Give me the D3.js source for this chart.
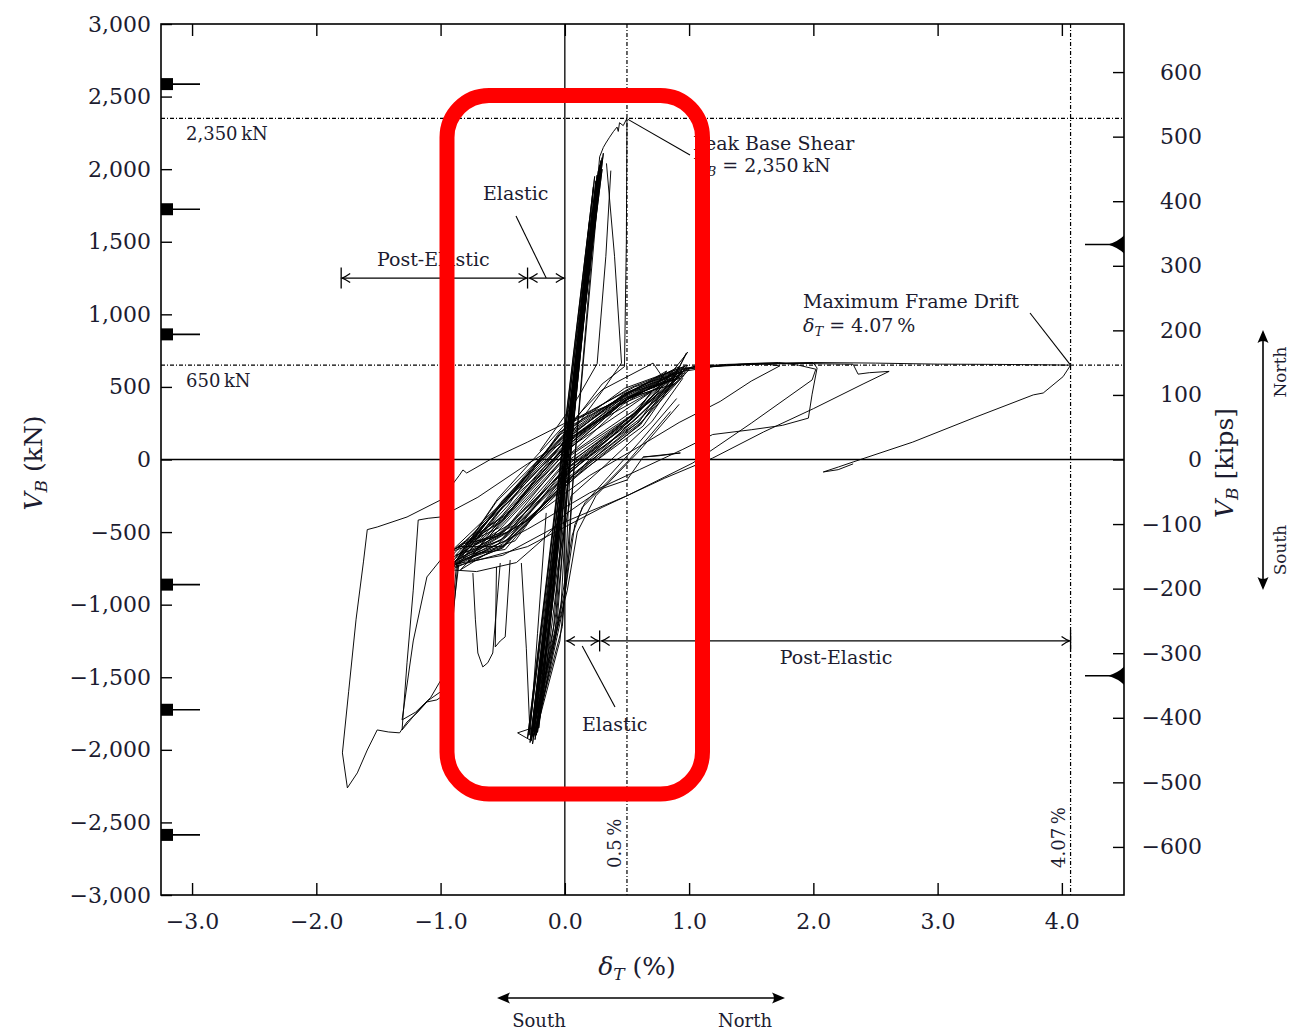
<!DOCTYPE html>
<html>
<head>
<meta charset="utf-8">
<script src="https://cdn.jsdelivr.net/npm/d3@7"></script>
<style>
  body { margin: 0; background: #fff; }
  svg text { font-family: "DejaVu Serif", serif; fill: #1c1c30; }
</style>
</head>
<body>
<svg id="chart" width="1291" height="1031"></svg>
<script>
// ---- Base shear VB (kN) vs. roof drift ratio δT (%), grouped by loading phase ----
const KN_PER_KIP = 4.448;

// Elastic-range cycles (steep bundle through the origin)
const elasticCycles = [
  [0.00, 0], [0.06, 420], [-0.05, -380], [0.11, 820], [-0.09, -720],
  [0.16, 1200], [-0.14, -1100], [0.21, 1560], [-0.19, -1480],
  [0.25, 1850], [-0.24, -1820], [0.28, 2030], [-0.27, -1930],
  [0.02, 60], [0.30, 2080], [-0.22, -1880], [0.25, 1920],
  [-0.02, -80], [-0.10, -1000], [-0.26, -1960], [0.29, 2060],
  [-0.29, -1900], [0.23, 1880], [0.01, 20], [-0.07, -1050], [-0.23, -1900],
  [0.27, 1990], [-0.25, -1870], [0.31, 2110], [-0.28, -1950], [0.26, 1960],
  [0.03, 40], [-0.12, -1150], [-0.24, -1930], [0.28, 2000],
  [0.05, 100], [-0.04, -700], [-0.21, -1850], [0.22, 1700], [-0.30, -1920],
  [0.24, 1950], [0.04, -50], [-0.08, -1200], [-0.26, -1880], [0.30, 2000],
  [-0.02, -150], [-0.27, -1900], [0.20, 1650], [0.00, -40], [-0.15, -1450],
  [-0.25, -1910], [0.27, 1900], [0.00, 0]
];

// Elastic cycles whose southern half bows toward the origin
const elasticFan = [
  [[0.26, 1950], [0.03, -50], [-0.03, -1000], [-0.24, -1890]],
  [[0.28, 2010], [0.05, 100], [0.00, -900], [-0.22, -1860]],
  [[-0.27, -1920], [-0.06, -1100], [0.01, -300], [0.25, 1850]],
  [[-0.25, -1900], [-0.02, -1150], [0.04, -450], [0.08, 0], [0.29, 2040]],
  [[0.24, 1800], [0.00, -200], [-0.09, -1150], [-0.27, -1940]],
  [[-0.23, -1870], [-0.04, -1250], [0.03, -700], [0.06, -200], [0.27, 1960]]
];

// Reloading branches leaving the southern elastic tips
const elasticReloads = [
  [[-0.25, -1900], [-0.12, -1450], [-0.02, -1050], [0.08, -450], [0.16, -300], [0.35, -120], [0.6, 120], [0.9, 420]],
  [[-0.27, -1930], [-0.15, -1300], [-0.05, -700], [0.05, -250], [0.3, -60], [0.7, 260], [0.95, 560]],
  [[-0.23, -1880], [-0.08, -1250], [0.06, -520], [0.14, -330], [0.5, -20], [0.85, 330]],
  [[-0.26, -1880], [-0.10, -1300], [0.02, -900], [0.10, -500], [0.25, -250], [0.6, 60], [0.92, 380]]
];

// Excursion to the peak base shear and the force drops that follow
const peakCycle = [
  [-0.26, -1900], [0.00, 0], [0.15, 1100], [0.26, 1880], [0.28, 2085], [0.31, 2150],
  [0.33, 2180], [0.36, 2220], [0.39, 2258], [0.42, 2290], [0.43, 2260], [0.44, 2320],
  [0.47, 2300], [0.50, 2350], [0.495, 1500], [0.48, 640], [0.30, 520], [0.00, 180],
  [-0.50, -300], [-0.88, -680]
];
const peakDrops = [
  [[0.335, 2040], [0.40, 1400], [0.456, 665], [0.30, 470], [0.0, 120]],
  [[0.37, 1990], [0.33, 1400], [0.26, 660], [0.1, 420], [-0.2, 60]]
];

// Post-elastic cycles within roughly ±1 % drift
const bandCyclesA = [
  [-0.60, -520], [-0.42, -330], [0.02, 60], [0.45, 380], [0.70, 470], [0.52, 270], [-0.03, -60], [-0.40, -450],
  [-0.72, -590], [-0.48, -400], [-0.02, 110], [0.52, 420], [0.80, 540], [0.57, 300], [0.04, -90], [-0.52, -520],
  [-0.80, -640], [-0.53, -360], [0.03, 150], [0.47, 450], [0.85, 600], [0.60, 260], [-0.05, -120], [-0.47, -560],
  [-0.86, -690], [-0.46, -320], [-0.04, 190], [0.55, 470], [0.93, 560], [0.50, 230], [0.05, -150], [-0.55, -590],
  [-0.90, -730], [-0.55, -290], [0.05, 220], [0.48, 490], [0.96, 640], [0.63, 230], [-0.02, -180], [-0.50, -610],
  [-0.78, -700], [-0.49, -380], [0.01, 90], [0.53, 430], [0.88, 520], [0.55, 310], [0.02, -40], [-0.46, -500],
  [-0.93, -640], [-0.51, -430], [-0.03, 40], [0.46, 400], [0.97, 600], [0.58, 330], [-0.04, -20], [-0.53, -470],
  [-0.80, -580], [-0.44, -350], [0.04, 130], [0.50, 450], [0.82, 610], [0.54, 280], [0.03, -100], [-0.49, -540],
  [-0.91, -740]
];
const bandCyclesB = [
  [-0.91, -740], [-0.54, -270], [0.00, 240], [0.56, 500], [1.00, 620], [0.62, 260], [-0.03, -160], [-0.48, -620],
  [-0.74, -650], [-0.47, -400], [0.03, 70], [0.49, 410], [0.78, 500], [0.55, 290], [0.01, -70], [-0.53, -510],
  [-0.90, -620], [-0.52, -310], [-0.04, 170], [0.51, 460], [0.92, 640], [0.61, 240], [0.04, -130], [-0.50, -580],
  [-0.84, -760], [-0.49, -450], [0.02, 20], [0.47, 380], [0.88, 600], [0.56, 340], [-0.02, 0], [-0.45, -450],
  [-0.95, -700], [-0.55, -340], [0.05, 140], [0.54, 440], [0.96, 580], [0.59, 270], [0.00, -110], [-0.51, -550],
  [-0.83, -670], [-0.48, -300], [-0.01, 200], [0.30, 480], [0.71, 664], [0.84, 500], [0.98, 735],
  [0.84, 500], [0.58, 250], [0.02, -140], [-0.50, -600],
  [-0.86, -600], [-0.45, -370], [0.00, 100], [0.52, 430], [0.90, 560], [0.54, 300], [0.03, -50], [-0.54, -530],
  [-0.76, -570], [-0.50, -410], [-0.03, 60], [0.48, 420], [0.85, 560], [0.57, 320], [-0.01, -30], [-0.48, -490],
  [-0.92, -720], [-0.53, -330], [0.04, 160], [0.50, 460], [0.94, 600], [0.56, 270], [-0.04, -100], [-0.52, -560],
  [-0.88, -660], [-0.47, -280], [0.01, 230], [0.53, 495], [0.99, 650], [0.60, 240], [0.02, -170], [-0.50, -605],
  [-0.92, -760]
];
const bandLowerEdge = [
  [-0.92, -760], [-0.71, -772], [-0.39, -710], [-0.15, -531], [0.00, -380], [0.30, -200],
  [0.50, -141], [0.63, 17], [0.93, 45], [0.75, 25], [0.63, 17]
];

// Northward excursions beyond 1 % drift
const northCycle1 = [
  [-0.80, -660], [-0.50, -380], [-0.20, -80], [0.20, 230], [0.60, 470], [0.90, 590], [1.03, 640],
  [1.30, 655], [1.50, 660], [1.72, 668], [1.88, 650], [2.02, 622], [1.99, 548], [1.50, 250],
  [1.03, -24], [0.50, -250], [0.00, -430], [-0.50, -660], [-0.88, -720]
];
const northCycle2 = [
  [-0.85, -720], [-0.50, -330], [0.00, 120], [0.50, 430], [0.90, 600], [1.20, 640], [1.60, 660],
  [1.73, 645], [1.50, 540], [1.25, 400], [0.92, 255], [0.60, 90], [0.20, -110], [-0.30, -420],
  [-0.88, -700]
];
const northCycle3 = [
  [-0.88, -700], [-0.50, -300], [0.00, 150], [0.50, 440], [0.95, 620], [1.30, 650], [1.70, 660],
  [2.00, 665], [2.03, 630], [1.99, 450], [1.96, 285], [1.75, 235], [1.50, 205], [1.19, 172],
  [0.95, 70], [0.60, -70], [0.20, -230], [-0.30, -480], [-0.85, -720]
];
const northCycle4 = [
  [-0.90, -730], [-0.50, -280], [0.00, 160], [0.50, 450], [0.95, 625], [1.40, 655], [1.90, 662],
  [2.32, 656], [2.36, 588], [2.45, 598], [2.61, 607], [2.40, 520], [2.00, 350], [1.60, 190],
  [1.19, 10], [0.80, -130], [0.30, -330], [-0.30, -600], [-0.90, -740]
];
const northCycle5 = [
  [-0.90, -740], [-0.50, -290], [0.00, 170], [0.50, 460], [0.95, 630], [1.50, 662], [2.00, 668],
  [2.50, 664], [3.00, 657], [3.50, 655], [3.90, 652], [4.07, 650], [4.01, 571], [3.85, 458],
  [3.77, 445], [3.30, 290], [2.80, 120], [2.32, -17], [2.20, -52], [2.08, -86], [2.20, -70],
  [2.32, -30]
];

// Southward excursions beyond 1 % drift
const southCycle1 = [
  [0.95, 600], [0.60, 300], [0.20, 0], [-0.30, -420], [-0.85, -700], [-0.90, -1050], [-0.93, -1400],
  [-0.97, -1620], [-1.03, -1656], [-1.11, -1670], [-1.19, -1746], [-1.27, -1808], [-1.33, -1883],
  [-1.42, -1877], [-1.51, -1863], [-1.59, -2001], [-1.67, -2159], [-1.75, -2262], [-1.79, -2021],
  [-1.74, -1600], [-1.68, -1100], [-1.62, -700], [-1.59, -483], [-1.51, -465], [-1.27, -396],
  [-1.00, -279], [-0.85, -110], [-0.82, -72], [-0.79, -93], [-0.60, 0], [-0.30, 120], [0.00, 250],
  [0.40, 390], [0.79, 524], [0.99, 740]
];
const southCycle2 = [
  [0.90, 580], [0.50, 250], [0.00, -100], [-0.40, -560], [-0.86, -700], [-0.92, -1300],
  [-1.00, -1600], [-1.10, -1660], [-1.20, -1750], [-1.31, -1863], [-1.27, -1400], [-1.22, -900],
  [-1.18, -417], [-1.10, -405], [-1.00, -396], [-0.70, -260], [-0.30, -30], [0.20, 230],
  [0.60, 420], [0.95, 600]
];
const southCycle3 = [
  [0.90, 590], [0.40, 200], [-0.10, -180], [-0.50, -600], [-0.87, -710], [-0.95, -1450],
  [-1.08, -1640], [-1.20, -1740], [-1.31, -1794], [-1.22, -1250], [-1.11, -809], [-1.00, -692],
  [-0.80, -560], [-0.50, -330], [0.00, 60], [0.50, 350], [0.92, 600]
];
const southDrops = [
  [[-0.74, -782], [-0.72, -1100], [-0.70, -1333], [-0.66, -1429], [-0.62, -1400], [-0.58, -1333], [-0.52, -713]],
  [[-0.55, -740], [-0.56, -1291], [-0.52, -1250], [-0.48, -1222], [-0.44, -692]],
  [[-0.35, -713], [-0.31, -1300], [-0.28, -1897], [-0.22, -1200], [-0.15, -368]],
  [[-0.38, -1883], [-0.26, -1849], [-0.28, -1932], [-0.38, -1883]]
];

// Reference levels and markers
const refShears = [2350, 650];          // kN
const refDrifts = [0.5, 4.07];          // %
const leftMarkersKN = [2586, 1724, 862, -862, -1724, -2586];
const rightMarkersKips = [333, -335];
const elasticLimits = { south: -0.30, north: 0.28 };
const maxDrifts = { south: -1.80, north: 4.07 };
const rangeArrowShear = 1250;           // kN level of the range arrows

// Axis ticks
const xTicks = [-3, -2, -1, 0, 1, 2, 3, 4];
const yTicksKN = [-3000, -2500, -2000, -1500, -1000, -500, 0, 500, 1000, 1500, 2000, 2500, 3000];
const yTicksKips = [-600, -500, -400, -300, -200, -100, 0, 100, 200, 300, 400, 500, 600];

// ---- Scales ----
const svg = d3.select("#chart");
const x = d3.scaleLinear().domain([-3.25, 4.5]).range([161, 1124]);
const y = d3.scaleLinear().domain([-3000, 3000]).range([895, 24]);
const yK = d3.scaleLinear().domain([-3000 / KN_PER_KIP, 3000 / KN_PER_KIP]).range([895, 24]);
const [x0, x1] = x.range();
const [yB, yT] = y.range();
const INK = "#000";
const TXT = "#1c1c30";

// ---- Axes (ticks point inward) ----
function styleAxis(g, size) {
  g.select(".domain").remove();
  g.selectAll(".tick line").attr("stroke", INK).attr("stroke-width", 1.4);
  g.selectAll(".tick text").attr("font-family", "DejaVu Serif").attr("font-size", size).attr("fill", TXT);
}
const fmtX = d3.format(".1f");
const fmtY = d3.format(",");

svg.append("g").attr("transform", `translate(0,${yB})`)
  .call(d3.axisBottom(x).tickValues(xTicks).tickFormat(fmtX).tickSize(-12).tickPadding(18))
  .call(g => styleAxis(g, 22));
svg.append("g").attr("transform", `translate(0,${yT})`)
  .call(d3.axisTop(x).tickValues(xTicks).tickFormat("").tickSize(-12))
  .call(g => styleAxis(g, 22));
svg.append("g").attr("transform", `translate(${x0},0)`)
  .call(d3.axisLeft(y).tickValues(yTicksKN).tickFormat(fmtY).tickSize(-11).tickPadding(10))
  .call(g => styleAxis(g, 22));
svg.append("g").attr("transform", `translate(${x1},0)`)
  .call(d3.axisRight(yK).tickValues(yTicksKips).tickFormat(d3.format("d")).tickSize(-11))
  .call(g => styleAxis(g, 22))
  .call(g => g.selectAll(".tick text").attr("text-anchor", "end").attr("x", 78));

// Frame
svg.append("rect").attr("x", x0).attr("y", yT).attr("width", x1 - x0).attr("height", yB - yT)
  .attr("fill", "none").attr("stroke", INK).attr("stroke-width", 1.6);

// Zero lines
svg.append("line").attr("x1", x0).attr("x2", x1).attr("y1", y(0)).attr("y2", y(0))
  .attr("stroke", INK).attr("stroke-width", 1.3);
svg.append("line").attr("x1", x(0)).attr("x2", x(0)).attr("y1", yT).attr("y2", yB)
  .attr("stroke", INK).attr("stroke-width", 1.3);

// Dash-dot reference lines
const DASHDOT = "4,2,1,2";
svg.selectAll("line.refH").data(refShears).join("line").attr("class", "refH")
  .attr("x1", x0).attr("x2", x1).attr("y1", d => y(d)).attr("y2", d => y(d))
  .attr("stroke", INK).attr("stroke-width", 1.2).attr("stroke-dasharray", DASHDOT);
svg.selectAll("line.refV").data(refDrifts).join("line").attr("class", "refV")
  .attr("y1", yT).attr("y2", yB).attr("x1", d => x(d)).attr("x2", d => x(d))
  .attr("stroke", INK).attr("stroke-width", 1.2).attr("stroke-dasharray", DASHDOT);

// ---- Hysteresis ----
svg.append("clipPath").attr("id", "plotClip").append("rect")
  .attr("x", x0).attr("y", yT).attr("width", x1 - x0).attr("height", yB - yT);
const traces = [
  elasticCycles, ...elasticFan, ...elasticReloads, peakCycle, ...peakDrops,
  bandCyclesA, bandCyclesB, bandLowerEdge,
  northCycle1, northCycle2, northCycle3, northCycle4, northCycle5,
  southCycle1, southCycle2, southCycle3, ...southDrops
];
const lineGen = d3.line().x(d => x(d[0])).y(d => y(d[1]));
svg.append("g").attr("clip-path", "url(#plotClip)")
  .selectAll("path").data(traces).join("path")
  .attr("d", lineGen).attr("fill", "none").attr("stroke", INK)
  .attr("stroke-width", 0.95).attr("stroke-linejoin", "round");

// ---- Capacity markers ----
svg.selectAll("line.lm").data(leftMarkersKN).join("line").attr("class", "lm")
  .attr("x1", x0).attr("x2", x0 + 39).attr("y1", d => y(d)).attr("y2", d => y(d))
  .attr("stroke", INK).attr("stroke-width", 1.6);
svg.selectAll("rect.lm").data(leftMarkersKN).join("rect").attr("class", "lm")
  .attr("x", x0).attr("y", d => y(d) - 6).attr("width", 12).attr("height", 12).attr("fill", INK);
svg.selectAll("line.rm").data(rightMarkersKips).join("line").attr("class", "rm")
  .attr("x1", x1 - 39).attr("x2", x1).attr("y1", d => yK(d)).attr("y2", d => yK(d))
  .attr("stroke", INK).attr("stroke-width", 1.6);
svg.selectAll("path.rm").data(rightMarkersKips).join("path").attr("class", "rm")
  .attr("d", d => `M${x1 - 16},${yK(d)} Q${x1 - 6},${yK(d) - 3} ${x1},${yK(d) - 9} L${x1},${yK(d) + 9} Q${x1 - 6},${yK(d) + 3} ${x1 - 16},${yK(d)} Z`)
  .attr("fill", INK);

// ---- Annotation helpers ----
function openHead(tx, ty, dir) {
  svg.append("path")
    .attr("d", `M${tx - dir * 8},${ty - 4.5} Q${tx - dir * 3},${ty - 1} ${tx},${ty} Q${tx - dir * 3},${ty + 1} ${tx - dir * 8},${ty + 4.5}`)
    .attr("fill", "none").attr("stroke", INK).attr("stroke-width", 1.3);
}
function rangeArrow(a, b, yy) {
  svg.append("line").attr("x1", a + 1).attr("x2", b - 1).attr("y1", yy).attr("y2", yy)
    .attr("stroke", INK).attr("stroke-width", 1.3);
  openHead(a + 1, yy, -1);
  openHead(b - 1, yy, 1);
}
function bar(xx, yy) {
  svg.append("line").attr("x1", xx).attr("x2", xx).attr("y1", yy - 10.5).attr("y2", yy + 10.5)
    .attr("stroke", INK).attr("stroke-width", 1.3);
}
function leader(ax, ay, bx, by) {
  svg.append("line").attr("x1", ax).attr("y1", ay).attr("x2", bx).attr("y2", by)
    .attr("stroke", INK).attr("stroke-width", 1.1);
}
function label(tx, ty, str, size, anchor) {
  return svg.append("text").attr("x", tx).attr("y", ty).attr("font-size", size)
    .attr("text-anchor", anchor || "start").text(str);
}

// Elastic / post-elastic ranges, south side
const yTop = y(rangeArrowShear);
bar(x(maxDrifts.south), yTop);
bar(x(elasticLimits.south), yTop);
rangeArrow(x(maxDrifts.south), x(elasticLimits.south), yTop);
rangeArrow(x(elasticLimits.south) + 1, x(0), yTop);
label(377, yTop - 12, "Post-Elastic", 19);
label(483, 200, "Elastic", 19);
leader(516, 216, x(elasticLimits.south / 2), yTop);

// Elastic / post-elastic ranges, north side
const yBot = y(-rangeArrowShear);
bar(x(elasticLimits.north), yBot);
bar(x(maxDrifts.north), yBot);
rangeArrow(x(0) + 1, x(elasticLimits.north), yBot);
rangeArrow(x(elasticLimits.north) + 1, x(maxDrifts.north), yBot);
label(836, yBot + 23, "Post-Elastic", 19, "middle");
label(582, 731, "Elastic", 19);
leader(x(elasticLimits.north / 2), yBot + 5, 615, 707);

// Reference level labels
label(186, y(refShears[0]) + 22, "2,350\u2009kN", 18);
label(186, y(refShears[1]) + 22, "650\u2009kN", 18);
svg.append("text").attr("transform", `translate(${x(refDrifts[0]) - 6},868) rotate(-90)`)
  .attr("font-size", 18).text("0.5\u2009%");
svg.append("text").attr("transform", `translate(${x(refDrifts[1]) - 6},868) rotate(-90)`)
  .attr("font-size", 18).text("4.07\u2009%");

// Peak base shear callout
leader(x(0.5) + 1, y(2350) + 1, 690, 155);
label(693, 150, "Peak Base Shear", 19);
const pk = label(693, 172, "", 19);
pk.append("tspan").attr("font-style", "italic").text("V");
pk.append("tspan").attr("font-style", "italic").attr("font-size", 13).attr("dy", 4).text("B");
pk.append("tspan").attr("dy", -4).text(" = 2,350\u2009kN");

// Maximum drift callout
leader(1030, 313, x(maxDrifts.north), y(650));
label(803, 308, "Maximum Frame Drift", 19);
const md = label(803, 332, "", 19);
md.append("tspan").attr("font-style", "italic").text("δ");
md.append("tspan").attr("font-style", "italic").attr("font-size", 13).attr("dy", 4).text("T");
md.append("tspan").attr("dy", -4).text(" = 4.07\u2009%");

// ---- Axis titles ----
const tl = svg.append("text").attr("transform", "translate(42,463) rotate(-90)")
  .attr("text-anchor", "middle").attr("font-size", 25);
tl.append("tspan").attr("font-style", "italic").text("V");
tl.append("tspan").attr("font-style", "italic").attr("font-size", 17).attr("dy", 5).text("B");
tl.append("tspan").attr("dy", -5).text(" (kN)");

const tr = svg.append("text").attr("transform", "translate(1233,463) rotate(-90)")
  .attr("text-anchor", "middle").attr("font-size", 25);
tr.append("tspan").attr("font-style", "italic").text("V");
tr.append("tspan").attr("font-style", "italic").attr("font-size", 17).attr("dy", 5).text("B");
tr.append("tspan").attr("dy", -5).text(" [kips]");

const tb = svg.append("text").attr("x", 637).attr("y", 975)
  .attr("text-anchor", "middle").attr("font-size", 25);
tb.append("tspan").attr("font-style", "italic").text("δ");
tb.append("tspan").attr("font-style", "italic").attr("font-size", 17).attr("dy", 5).text("T");
tb.append("tspan").attr("dy", -5).text(" (%)");

// ---- Direction indicators ----
function filledHead(tx, ty, angle) {
  svg.append("path").attr("d", "M0,0 L-13,-5.5 Q-9,0 -13,5.5 Z")
    .attr("transform", `translate(${tx},${ty}) rotate(${angle})`).attr("fill", INK);
}
svg.append("line").attr("x1", 500).attr("x2", 782).attr("y1", 998).attr("y2", 998)
  .attr("stroke", INK).attr("stroke-width", 1.6);
filledHead(497, 998, 180);
filledHead(785, 998, 0);
label(539, 1027, "South", 18, "middle");
label(745, 1027, "North", 18, "middle");

svg.append("line").attr("x1", 1263).attr("x2", 1263).attr("y1", 333).attr("y2", 587)
  .attr("stroke", INK).attr("stroke-width", 1.6);
filledHead(1263, 330, -90);
filledHead(1263, 590, 90);
svg.append("text").attr("transform", "translate(1286,372) rotate(-90)")
  .attr("text-anchor", "middle").attr("font-size", 17).text("North");
svg.append("text").attr("transform", "translate(1286,550) rotate(-90)")
  .attr("text-anchor", "middle").attr("font-size", 17).text("South");

// ---- Highlight of the elastic-range response ----
svg.append("rect").attr("x", 447).attr("y", 95.5).attr("width", 255.5).attr("height", 698.5)
  .attr("rx", 42).attr("ry", 42).attr("fill", "none").attr("stroke", "#ff0000").attr("stroke-width", 15);
</script>
</body>
</html>
